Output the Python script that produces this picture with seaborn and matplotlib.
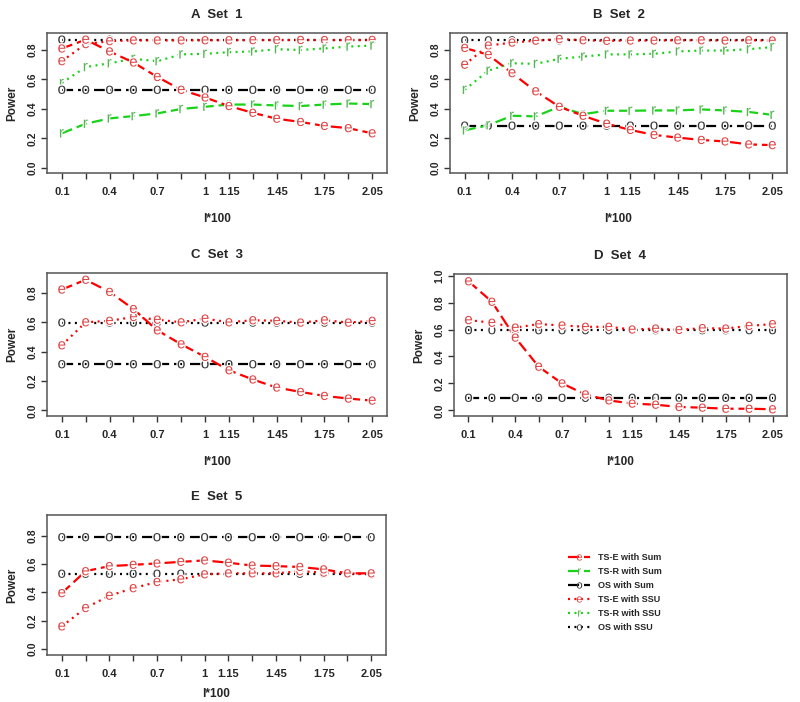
import numpy as np
import pandas as pd
import matplotlib
matplotlib.use("Agg")
import matplotlib.pyplot as plt
import matplotlib.patheffects as pe
from matplotlib.lines import Line2D
import seaborn as sns

# x grid (l*100)
l100 = [0.1, 0.25, 0.4, 0.55, 0.7, 0.85, 1.0, 1.15, 1.3, 1.45, 1.6, 1.75, 1.9, 2.05]
shown = ["0.1", "", "0.4", "", "0.7", "", "1", "1.15", "", "1.45", "", "1.75", "", "2.05"]

# Set 1
a_tse_sum = [0.81, 0.87, 0.79, 0.715, 0.617, 0.53, 0.478, 0.42, 0.374, 0.334, 0.312, 0.285, 0.27, 0.235]
a_tsr_sum = [0.235, 0.30, 0.336, 0.352, 0.37, 0.40, 0.415, 0.43, 0.43, 0.424, 0.42, 0.43, 0.437, 0.433]
a_os_sum = [0.53] * 14
a_tse_ssu = [0.724, 0.84, 0.86, 0.865, 0.865, 0.865, 0.866, 0.866, 0.867, 0.867, 0.868, 0.867, 0.867, 0.868]
a_tsr_ssu = [0.576, 0.684, 0.71, 0.74, 0.724, 0.77, 0.774, 0.785, 0.79, 0.805, 0.80, 0.81, 0.823, 0.83]
a_os_ssu = [0.87] * 14

# Set 2
b_tse_sum = [0.814, 0.767, 0.643, 0.52, 0.415, 0.354, 0.30, 0.258, 0.224, 0.206, 0.19, 0.18, 0.16, 0.155]
b_tsr_sum = [0.255, 0.29, 0.354, 0.35, 0.415, 0.365, 0.388, 0.388, 0.39, 0.39, 0.397, 0.39, 0.38, 0.36]
b_os_sum = [0.287] * 14
b_tse_ssu = [0.70, 0.83, 0.85, 0.863, 0.874, 0.866, 0.862, 0.864, 0.864, 0.866, 0.866, 0.864, 0.866, 0.864]
b_tsr_ssu = [0.53, 0.66, 0.71, 0.706, 0.74, 0.755, 0.77, 0.77, 0.774, 0.79, 0.796, 0.796, 0.805, 0.82]
b_os_ssu = [0.865] * 14

# Set 3
c_tse_sum = [0.823, 0.89, 0.807, 0.69, 0.545, 0.45, 0.364, 0.273, 0.21, 0.155, 0.125, 0.098, 0.08, 0.066]
c_os_sum = [0.314] * 14
c_tse_ssu = [0.443, 0.60, 0.61, 0.636, 0.618, 0.60, 0.625, 0.60, 0.614, 0.61, 0.598, 0.614, 0.598, 0.61]
c_os_ssu = [0.598] * 14

# Set 4
d_tse_sum = [0.958, 0.806, 0.54, 0.324, 0.20, 0.118, 0.074, 0.05, 0.042, 0.025, 0.02, 0.012, 0.012, 0.008]
d_os_sum = [0.093] * 14
d_tse_ssu = [0.67, 0.65, 0.614, 0.64, 0.63, 0.62, 0.62, 0.60, 0.607, 0.597, 0.61, 0.607, 0.627, 0.64]
d_os_ssu = [0.595] * 14

# Set 5
e_tse_sum = [0.395, 0.55, 0.586, 0.595, 0.605, 0.616, 0.626, 0.61, 0.59, 0.586, 0.58, 0.563, 0.535, 0.535]
e_os_sum = [0.79] * 14
e_tse_ssu = [0.16, 0.29, 0.377, 0.43, 0.474, 0.493, 0.528, 0.535, 0.535, 0.535, 0.55, 0.54, 0.535, 0.528]
e_os_ssu = [0.532] * 14

panels = [
    ("A  Set  1", {"tse_sum": a_tse_sum, "tsr_sum": a_tsr_sum, "os_sum": a_os_sum,
                   "tse_ssu": a_tse_ssu, "tsr_ssu": a_tsr_ssu, "os_ssu": a_os_ssu}),
    ("B  Set  2", {"tse_sum": b_tse_sum, "tsr_sum": b_tsr_sum, "os_sum": b_os_sum,
                   "tse_ssu": b_tse_ssu, "tsr_ssu": b_tsr_ssu, "os_ssu": b_os_ssu}),
    ("C  Set  3", {"tse_sum": c_tse_sum, "os_sum": c_os_sum,
                   "tse_ssu": c_tse_ssu, "os_ssu": c_os_ssu}),
    ("D  Set  4", {"tse_sum": d_tse_sum, "os_sum": d_os_sum,
                   "tse_ssu": d_tse_ssu, "os_ssu": d_os_ssu}),
    ("E  Set  5", {"tse_sum": e_tse_sum, "os_sum": e_os_sum,
                   "tse_ssu": e_tse_ssu, "os_ssu": e_os_ssu}),
]
ylims = [(-0.034, 0.915), (-0.034, 0.915), (-0.039, 0.936), (-0.042, 1.012), (-0.042, 0.947)]
# axes boxes in pixels: left, right, top, bottom
boxes = [(47, 387, 33, 173), (450, 787, 33, 173), (47, 387, 273, 416),
         (454, 787, 274, 416), (47, 386, 515, 655)]
xlab_off = [40, 40, 40, 40, 33]

RED, GREEN, BLACK = "#FF0000", "#19D219", "#000000"
DASH = (0, (5, 2.2))
DOT = (0, (0.9, 2.0))
styles = {
    "tse_sum": ("TS-E with Sum", RED, "#E04646", DASH, "e"),
    "tsr_sum": ("TS-R with Sum", GREEN, "#58B458", DASH, "r"),
    "os_sum": ("OS with Sum", BLACK, "#3A3A3A", DASH, "o"),
    "tse_ssu": ("TS-E with SSU", RED, "#E04646", DOT, "e"),
    "tsr_ssu": ("TS-R with SSU", GREEN, "#58B458", DOT, "r"),
    "os_ssu": ("OS with SSU", BLACK, "#3A3A3A", DOT, "o"),
}

sns.set_style("ticks")
plt.rcParams["font.family"] = ["Liberation Sans", "DejaVu Sans"]
plt.rcParams["font.weight"] = "bold"
plt.rcParams["mathtext.fontset"] = "custom"
plt.rcParams["mathtext.rm"] = "Liberation Sans:weight=normal"

W, H = 800, 702
fig = plt.figure(figsize=(W / 100, H / 100), dpi=100)

for (title, series), (y0, y1), (lft, rgt, top, bot), xo in zip(panels, ylims, boxes, xlab_off):
    ax = fig.add_axes([lft / W, 1 - bot / H, (rgt - lft) / W, (bot - top) / H])
    for key in ["os_ssu", "tse_ssu", "tsr_ssu", "os_sum", "tsr_sum", "tse_sum"]:
        if key not in series:
            continue
        name, lc, mc, ls, letter = styles[key]
        df = pd.DataFrame({"l": l100, "power": series[key]})
        sns.lineplot(data=df, x="l", y="power", ax=ax, color=lc, linestyle=ls,
                     linewidth=1.6, errorbar=None, zorder=2)
        ax.plot(df["l"], df["power"], linestyle="none",
                marker=r"$\mathrm{" + letter + "}$", markersize=6,
                markeredgewidth=0, color=mc, zorder=3,
                path_effects=[pe.withStroke(linewidth=1.8, foreground="white")])
    ax.set_xlim(0.1 - 0.093, 2.05 + 0.093)
    ax.set_ylim(y0, y1)
    yt = [0.0, 0.2, 0.4, 0.6, 0.8] + ([1.0] if y1 > 1.0 else [])
    ax.set_yticks(yt)
    ax.set_yticklabels([f"{v:.1f}" for v in yt], rotation=90, va="center",
                       fontsize=7.5, fontweight="bold")
    ax.set_xticks(l100)
    ax.set_xticklabels(shown, fontsize=8, fontweight="bold")
    ax.tick_params(axis="both", length=4, width=1, color="#333333")
    ax.tick_params(axis="x", pad=6)
    ax.tick_params(axis="y", pad=3)
    for sp in ax.spines.values():
        sp.set_color("#555555")
        sp.set_linewidth(1.1)
    ax.set_title(title, fontsize=9.5, fontweight="bold", pad=11)
    ax.set_xlabel("l*100", fontsize=8.5, fontweight="bold")
    ax.set_ylabel("Power", fontsize=8.5, fontweight="bold")
    ax.xaxis.set_label_coords(0.5, -xo / (bot - top))
    ax.yaxis.set_label_coords(-29 / (rgt - lft), 0.5)

handles = []
labels = []
for key in ["tse_sum", "tsr_sum", "os_sum", "tse_ssu", "tsr_ssu", "os_ssu"]:
    name, lc, mc, ls, letter = styles[key]
    handles.append(Line2D([0], [0], color=lc, linestyle=ls, linewidth=1.6,
                          marker=r"$\mathrm{" + letter + "}$", markersize=4.5,
                          markeredgewidth=0, markeredgecolor=mc, markerfacecolor=mc))
    labels.append(name)
fig.legend(handles, labels, loc="upper left", bbox_to_anchor=(560 / W, 1 - 545 / H),
           frameon=False, handlelength=2.4, labelspacing=0.55,
           handletextpad=0.9, prop={"weight": "bold", "size": 6.5})

fig.savefig("out.png", dpi=100)
